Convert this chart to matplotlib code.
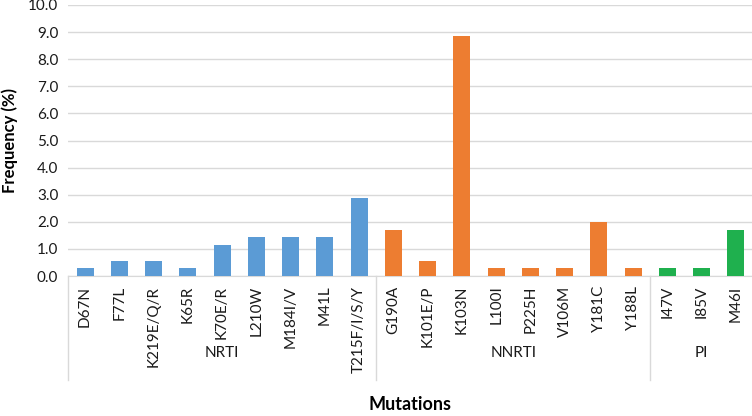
import matplotlib
matplotlib.use("Agg")
import matplotlib.pyplot as plt
import matplotlib.transforms as mtransforms
import numpy as np

plt.rcParams["font.family"] = ["Lato", "DejaVu Sans"]

# data
nrti = ["D67N", "F77L", "K219E/Q/R", "K65R", "K70E/R", "L210W", "M184I/V", "M41L", "T215F/I/S/Y"]
nrti_vals = [0.29, 0.57, 0.57, 0.29, 1.14, 1.43, 1.43, 1.43, 2.86]
nnrti = ["G190A", "K101E/P", "K103N", "L100I", "P225H", "V106M", "Y181C", "Y188L"]
nnrti_vals = [1.71, 0.57, 8.86, 0.29, 0.29, 0.29, 2.00, 0.29]
pi = ["I47V", "I85V", "M46I"]
pi_vals = [0.29, 0.29, 1.71]

groups = ["NRTI", "NNRTI", "PI"]
colors = ["#5B9BD5", "#ED7D31", "#1FB04E"]

labels = nrti + nnrti + pi
values = nrti_vals + nnrti_vals + pi_vals
sizes = [len(nrti), len(nnrti), len(pi)]
bar_colors = [c for c, n in zip(colors, sizes) for _ in range(n)]

W, H = 752, 416
fig = plt.figure(figsize=(W / 100, H / 100), dpi=100)
ax = fig.add_axes([68 / W, (H - 276) / H, 685 / W, 271 / H])

x = np.arange(len(labels))
ax.bar(x, values, width=0.5, color=bar_colors, zorder=3)

ax.set_xlim(-0.5, len(labels) - 0.5)
ax.set_ylim(0, 10)
ax.set_yticks(np.arange(0, 10.5, 1.0))
ax.set_yticklabels([f"{v:.1f}" for v in np.arange(0, 10.5, 1.0)], fontsize=11)
ax.set_xticks(x)
ax.set_xticklabels(labels, rotation=90, fontsize=11, va="top")
ax.tick_params(axis="both", length=0, colors="#1a1a1a")
ax.tick_params(axis="x", pad=7)
ax.tick_params(axis="y", pad=7)
ax.grid(axis="y", color="#D9D9D9", lw=1, zorder=0)
for s in ["top", "right", "left"]:
    ax.spines[s].set_visible(False)
ax.spines["bottom"].set_color("#D9D9D9")

# group separators and labels
trans = mtransforms.blended_transform_factory(ax.transData, ax.transAxes)
bounds = np.concatenate([[0], np.cumsum(sizes)]) - 0.5
for b in bounds:
    ax.plot([b, b], [0, -0.385], transform=trans, color="#D9D9D9", lw=1, clip_on=False)
for g, lo, hi in zip(groups, bounds[:-1], bounds[1:]):
    ax.text((lo + hi) / 2, -0.285, g, transform=trans, ha="center", va="center",
            fontsize=11, color="#1a1a1a")

ax.text(0.5, -0.475, "Mutations", transform=ax.transAxes, ha="center", va="center",
        fontsize=13, fontweight="bold")
ax.set_ylabel("Frequency (%)", fontsize=12, fontweight="bold", labelpad=7)

fig.savefig("out.png", dpi=100)
